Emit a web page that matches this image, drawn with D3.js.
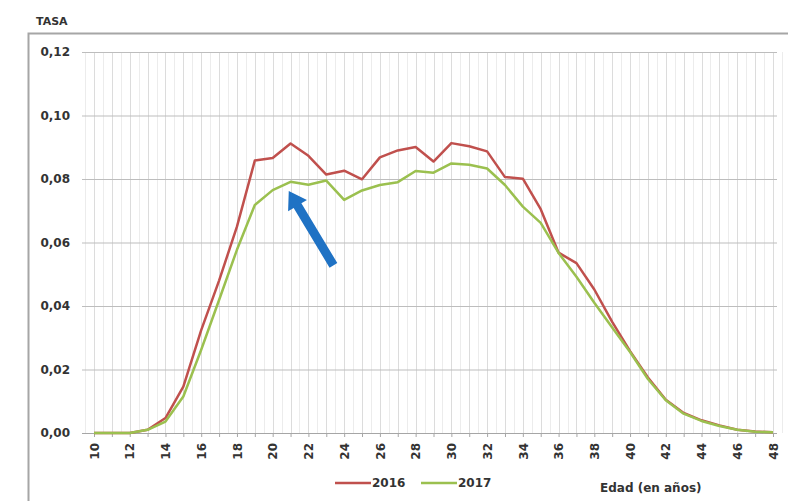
<!DOCTYPE html>
<html lang="es">
<head>
    <meta charset="UTF-8">
    <title>Tasa por edad</title>
    <script src="https://d3js.org/d3.v7.min.js"></script>
    <style>
        html, body{
            margin:0;
            background:#fff;
        }
        text{
            font-family: "DejaVu Sans", Verdana, sans-serif;
            font-weight: bold;
            fill:#333;
        }
        .line{
            fill:none;
            stroke-width:2.5;
            stroke-linejoin:round;
        }
    </style>
</head>
<body>
<div id="chart"></div>
<script>
    // ages on the x axis
    var ages = d3.range(10, 49);
    var xTickLabels = ["10","12","14","16","18","20","22","24","26","28","30","32","34","36","38","40","42","44","46","48"];
    var yTickValues = [0, 0.02, 0.04, 0.06, 0.08, 0.10, 0.12];

    // rate per age
    var rate2016 = [0, 0, 0, 0.001, 0.0047, 0.0146, 0.0324, 0.048, 0.065, 0.0858, 0.0866, 0.0912,
        0.0873, 0.0814, 0.0826, 0.0799, 0.0868, 0.089, 0.0901, 0.0855, 0.0913, 0.0903, 0.0887,
        0.0806, 0.0801, 0.0705, 0.0568, 0.0535, 0.0452, 0.035, 0.0258, 0.0175, 0.0105, 0.0063,
        0.004, 0.0024, 0.001, 0.0005, 0.0002];
    var rate2017 = [0, 0, 0, 0.001, 0.0036, 0.0115, 0.0262, 0.0419, 0.0577, 0.0718, 0.0765, 0.0791,
        0.0782, 0.0795, 0.0734, 0.0764, 0.0781, 0.079, 0.0825, 0.082, 0.0849, 0.0845, 0.0833,
        0.0781, 0.0713, 0.0662, 0.0567, 0.0492, 0.041, 0.0332, 0.0255, 0.017, 0.0103, 0.0061,
        0.0038, 0.0022, 0.001, 0.0004, 0.0002];
    var seriesNames = ["2016", "2017"];
    var seriesColors = ["#c0504d", "#9bc04f"];

    // arrow annotation in data units: [tail, tip]
    var arrowTail = {age: 23.4, rate: 0.0528};
    var arrowTip = {age: 20.9, rate: 0.0762};

    var W = 788, H = 501;
    var svg = d3.select("#chart").append("svg")
        .attr("width", W)
        .attr("height", H);

    var xScale = d3.scaleLinear().domain([10, 48]).range([94, 773]);
    var yScale = d3.scaleLinear().domain([0, 0.12]).range([433, 52]);
    var plotLeft = 82, plotRight = 777;

    // outer frame
    svg.append("path")
        .attr("d", "M28.5," + H + "V33.5H" + W)
        .attr("fill", "none")
        .attr("stroke", "#a6a6a6")
        .attr("stroke-width", 2);

    svg.append("text")
        .attr("x", 36)
        .attr("y", 25)
        .attr("font-size", 11)
        .text("TASA");

    // vertical grid, every half year
    svg.append("g").selectAll("line")
        .data(d3.range(9.5, 48.6, 0.5))
        .enter().append("line")
        .attr("x1", function(d){ return Math.round(xScale(d)) + 0.5; })
        .attr("x2", function(d){ return Math.round(xScale(d)) + 0.5; })
        .attr("y1", yScale(0.12))
        .attr("y2", yScale(0))
        .attr("stroke", function(d){ return d % 1 === 0 ? "#dcdcdc" : "#ececec"; })
        .attr("stroke-width", 1);

    // horizontal grid + y labels
    var yAxis = d3.axisLeft(yScale)
        .tickValues(yTickValues)
        .tickSize(-(plotRight - plotLeft))
        .tickPadding(12)
        .tickFormat(function(d){ return d3.format(".2f")(d).replace(".", ","); });
    var gy = svg.append("g")
        .attr("transform", "translate(" + plotLeft + ",0)")
        .call(yAxis);
    gy.select(".domain").remove();
    gy.selectAll(".tick line").attr("stroke", "#bdbdbd");
    gy.selectAll(".tick text")
        .attr("font-size", 12)
        .attr("font-family", "DejaVu Sans")
        .attr("font-weight", "bold")
        .attr("fill", "#333");

    // x axis
    var xAxis = d3.axisBottom(xScale)
        .tickValues(ages)
        .tickSize(4)
        .tickFormat(function(d){ return xTickLabels.indexOf(String(d)) >= 0 ? d : ""; });
    var gx = svg.append("g")
        .attr("transform", "translate(0," + yScale(0) + ")")
        .call(xAxis);
    gx.select(".domain")
        .attr("d", "M" + plotLeft + ",0.5H" + plotRight)
        .attr("stroke", "#a6a6a6");
    gx.selectAll(".tick line").attr("stroke", "#a6a6a6");
    gx.selectAll(".tick text")
        .attr("font-size", 12)
        .attr("font-family", "DejaVu Sans")
        .attr("font-weight", "bold")
        .attr("fill", "#333")
        .attr("text-anchor", "end")
        .attr("transform", "translate(0,4) rotate(-90)")
        .attr("dy", "0.35em")
        .attr("x", -6)
        .attr("y", 0);
    gx.selectAll(".tick text").attr("transform", "rotate(-90)").attr("x", -10);

    // lines
    var valueLine = d3.line()
        .x(function(d){ return xScale(d.age); })
        .y(function(d){ return yScale(d.rate); });

    [rate2016, rate2017].forEach(function(arr, i){
        var pts = ages.map(function(a, j){ return {age: a, rate: arr[j]}; });
        svg.append("path")
            .datum(pts)
            .attr("class", "line")
            .attr("stroke", seriesColors[i])
            .attr("d", valueLine);
    });

    // arrow
    var x0 = xScale(arrowTail.age), y0 = yScale(arrowTail.rate);
    var x1 = xScale(arrowTip.age), y1 = yScale(arrowTip.rate);
    var dx = x1 - x0, dy = y1 - y0, len = Math.sqrt(dx*dx + dy*dy);
    var ux = dx / len, uy = dy / len, nx = -uy, ny = ux;
    var shaft = 4.5, head = 11, headLen = 17;
    var bx = x1 - ux * headLen, by = y1 - uy * headLen;
    var arrowPts = [
        [x0 + nx*shaft, y0 + ny*shaft],
        [bx + nx*shaft, by + ny*shaft],
        [bx + nx*head, by + ny*head],
        [x1, y1],
        [bx - nx*head, by - ny*head],
        [bx - nx*shaft, by - ny*shaft],
        [x0 - nx*shaft, y0 - ny*shaft]
    ];
    svg.append("path")
        .attr("d", "M" + arrowPts.map(function(p){ return p.join(","); }).join("L") + "Z")
        .attr("fill", "#1f72c4");

    // legend
    var legend = svg.append("g").attr("transform", "translate(335,483)");
    var legendX = [0, 86];
    seriesNames.forEach(function(name, i){
        var g = legend.append("g").attr("transform", "translate(" + legendX[i] + ",0)");
        g.append("line")
            .attr("x1", 0).attr("x2", 36)
            .attr("y1", 0).attr("y2", 0)
            .attr("stroke", seriesColors[i])
            .attr("stroke-width", 2.5);
        g.append("text")
            .attr("x", 37)
            .attr("y", 4)
            .attr("font-size", 12)
            .text(name);
    });

    svg.append("text")
        .attr("x", 600)
        .attr("y", 492)
        .attr("font-size", 12)
        .text("Edad (en años)");
</script>
</body>
</html>
